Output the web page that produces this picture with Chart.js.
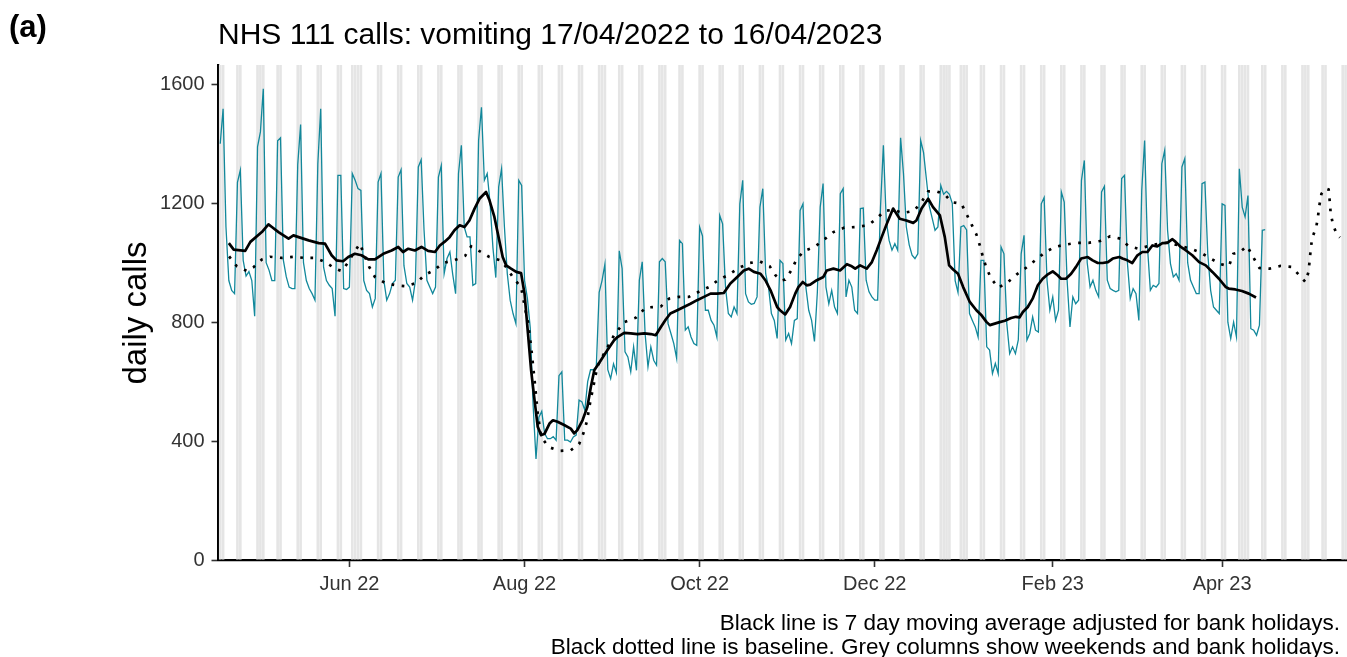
<!DOCTYPE html>
<html>
<head>
<meta charset="utf-8">
<title>NHS 111 calls: vomiting</title>
<script src="https://cdn.jsdelivr.net/npm/chart.js@4.4.1/dist/chart.umd.min.js"></script>
<style>
  html, body { margin: 0; padding: 0; background: #fff; }
  canvas { display: block; }
</style>
</head>
<body>
<canvas id="grafico" width="1347" height="657"></canvas>
<script>
// Day 0 is Sunday 17/04/2022
const startDate = Date.UTC(2022, 3, 17);

// Daily NHS 111 calls for vomiting, one row per week (Sun..Sat)
const dailyCalls = [
  1400, 1518, 1120, 940, 907, 896, 1270,
  1311, 1008, 955, 970, 940, 820, 1390,
  1440, 1585, 1000, 975, 940, 940, 1410,
  1420, 1008, 953, 918, 913, 913, 1330,
  1465, 1000, 940, 913, 896, 874, 1333,
  1518, 985, 940, 924, 913, 820, 1294,
  1294, 913, 910, 918, 1300, 1277, 1249,
  1243, 940, 907, 896, 851, 880, 1271,
  1300, 940, 874, 896, 930, 941, 1288,
  1313, 990, 930, 918, 874, 940, 1322,
  1346, 1109, 941, 918, 896, 918, 1288,
  1327, 963, 1014, 1036, 960, 896, 1300,
  1395, 1120, 1087, 1087, 924, 930, 1411,
  1523, 1277, 1300, 1200, 1050, 950, 1255,
  1316, 1120, 963, 874, 829, 795, 1277,
  1260, 941, 880, 780, 520, 340, 480,
  500, 425, 408, 408, 415, 403, 620,
  633, 403, 403, 397, 414, 420, 538,
  532, 504, 600, 640, 640, 650, 900,
  940, 995, 640, 610, 660, 630, 1040,
  980, 700, 683, 633, 717, 638, 941,
  1003, 762, 650, 717, 672, 655, 1003,
  1014, 1003, 795, 762, 728, 678, 1075,
  1064, 773, 784, 750, 728, 722, 1120,
  1090, 840, 840, 806, 790, 750, 1159,
  1131, 918, 829, 818, 851, 829, 1198,
  1277, 896, 868, 860, 863, 885, 1187,
  1249, 963, 918, 829, 806, 745, 1008,
  997, 740, 762, 728, 806, 812, 1176,
  1198, 918, 840, 806, 735, 900, 1187,
  1266, 918, 862, 907, 851, 829, 1232,
  1249, 885, 941, 918, 840, 829, 1182,
  1184, 941, 902, 885, 874, 874, 1187,
  1395, 1142, 1075, 1042, 1064, 1042, 1420,
  1300, 1120, 1060, 1025, 1014, 1030, 1411,
  1370, 1280, 1190, 1150, 1109, 1120, 1260,
  1230, 1240, 1230, 1200, 940, 900, 1120,
  1125, 1110, 829, 806, 784, 750, 1008,
  1008, 717, 706, 627, 661, 627, 1053,
  1030, 795, 694, 717, 694, 740, 1030,
  1092, 740, 762, 818, 773, 767, 1198,
  1219, 941, 840, 885, 806, 840, 1238,
  1204, 941, 784, 885, 862, 874, 1277,
  1344, 1000, 918, 941, 907, 885, 1238,
  1257, 941, 913, 907, 902, 907, 1283,
  1294, 1000, 879, 913, 896, 806, 1243,
  1411, 1053, 907, 924, 918, 930, 1333,
  1378, 1109, 997, 952, 963, 941, 1322,
  1350, 1000, 941, 918, 896, 896, 1266,
  1271, 1030, 907, 851, 840, 829, 1198,
  1193, 800, 745, 800, 750, 1316, 1187,
  1154, 1226, 778, 773, 756, 790, 1109,
  1111
];

// 7 day moving average (adjusted for bank holidays): day, value
const avgDays = [
  3, 4.7, 8.7, 10.5, 14.5, 16.8, 18, 20.3, 23.8, 25.5, 27.3, 30.8, 34.3, 36.5, 38.8, 40.5,
  42.8, 44.6, 46.9, 49.2, 51.6, 53.9, 56.8, 59.7, 62, 63.7, 65.5, 67.8, 70.1, 72.4, 74.8, 76.5,
  78.1, 79.9, 81.6, 83.4, 85.1, 86.8, 88.6, 90.3, 92.6, 93.8, 95.5, 96.7, 98.4, 99.6, 101.3, 103.1,
  104.8, 106, 107.2, 108.3, 109.5, 110.6, 111.8, 113, 114.7, 115.9, 117.5, 119.8, 122.1, 123.3, 124.4, 126.2,
  127.9, 129.1, 130.3, 132.6, 134.9, 137.2, 138.4, 140.7, 143, 145.3, 147.7, 150, 151.7, 153.5, 155.2, 156.8,
  159.2, 161.5, 163.8, 166.1, 168.5, 170.8, 173.1, 175.4, 177.7, 180.1, 182.4, 184.1, 185.9, 188.2, 189.9, 191.7,
  194, 195, 196.8, 198.5, 200.3, 201.4, 202.9, 204.3, 205.5, 207.8, 210.1, 211.3, 213.6, 215.9, 218.3, 220,
  221.2, 222.9, 225.2, 227, 228.7, 230.4, 232.2, 234.4, 236.7, 239, 241.4, 242.5, 244.3, 246.6, 248.3, 250.7,
  252.4, 253.9, 255.3, 257, 258.8, 261.1, 263.4, 265.2, 266.9, 268.1, 269.8, 271.5, 273.3, 275.5, 277.2, 278.4,
  279.6, 281.3, 283, 284.8, 286.5, 288.3, 290, 291.7, 292.9, 294.6, 296.4, 298.1, 299.9, 302.2, 303.9, 305.7,
  307.4, 309.2, 310.9, 313.2, 314.3, 316, 317.7, 319.5, 321.2, 323, 324.7, 326.4, 328.2, 329.9, 331.7, 332.8,
  334.6, 336.3, 338.6, 341, 343.3, 345.6, 347.9, 350.3, 351.3, 353.6, 355.9, 358.3, 360.8
];
const avgValues = [
  1066, 1044, 1040, 1070, 1103, 1129, 1120, 1103, 1081, 1092, 1086, 1075, 1066, 1064, 1025, 1008,
  1005, 1019, 1030, 1025, 1011, 1011, 1030, 1041, 1053, 1036, 1047, 1041, 1053, 1040, 1036, 1058,
  1070, 1086, 1109, 1126, 1120, 1142, 1182, 1215, 1238, 1210, 1154, 1098, 1019, 991, 980, 969,
  965, 896, 762, 638, 537, 448, 420, 425, 459, 470, 465, 454, 442, 426, 437, 470,
  515, 582, 638, 672, 706, 739, 750, 764, 762, 760, 762, 760, 756, 784, 809, 829,
  840, 851, 862, 874, 885, 896, 896, 898, 930, 952, 974, 980, 969, 963, 941, 907,
  851, 840, 826, 851, 896, 918, 935, 924, 926, 941, 952, 974, 980, 974, 995, 988,
  980, 991, 980, 1002, 1042, 1086, 1131, 1182, 1148, 1142, 1134, 1142, 1182, 1215, 1187, 1159,
  1086, 991, 977, 963, 918, 868, 840, 823, 801, 790, 795, 800, 805, 814, 818, 816,
  834, 851, 879, 924, 946, 961, 971, 958, 946, 946, 963, 986, 1014, 1019, 1008, 999,
  999, 1002, 1014, 1019, 1014, 1008, 999, 1025, 1036, 1036, 1058, 1055, 1066, 1067, 1079, 1070,
  1053, 1042, 1025, 1002, 991, 969, 946, 918, 913, 910, 905, 896, 883
];

// Baseline (dotted): day, value
const baseDays = [
  3.1, 5.8, 9.3, 11.6, 14.5, 17.4, 21.5, 25.6, 29.4, 32.9, 36.6, 40, 42.3, 44.5, 46.7, 48.7,
  50.2, 51.9, 53.9, 57.4, 61.2, 64.6, 68.4, 71.1, 74.4, 77.6, 81.4, 85.3, 87.4, 90.3, 93.8, 97.6,
  99.6, 102.3, 104.8, 106.2, 107.2, 108.3, 109.5, 110.6, 111.8, 114.4, 118.1, 122.1, 125, 126.5, 127.7, 128.9,
  131.4, 134, 137.2, 140.7, 144.8, 148.2, 151.1, 153.5, 156.3, 159.7, 163.2, 166.7, 170.2, 173.7, 177.2, 180.6,
  184.5, 187.9, 191.4, 193.4, 195.5, 196.8, 198.8, 200.6, 203.2, 207, 210.4, 213.6, 217.4, 221.4, 225.6, 228.7,
  231.3, 234.5, 237.7, 241.6, 244.3, 246.6, 249.5, 252.4, 254.7, 258.2, 260, 261.7, 263.4, 264.6, 265.7, 266.9,
  268.6, 271, 274.2, 277.5, 280.7, 283.9, 287.1, 290.6, 294.6, 298.4, 302.5, 306.5, 310, 313.5, 316.4, 319.8,
  325, 330, 335, 338.1, 341.5, 345, 348.5, 351.4, 352.9, 355.2, 357.7, 359.8, 362, 365.6, 369.3, 373.1,
  375.7, 378, 379.1, 379.6, 380.3, 381.8, 382.4, 382.9, 383.6, 385, 386.1, 386.5, 386.8, 387.6, 389, 390
];
const baseValues = [
  1021, 988, 972, 985, 1011, 1020, 1016, 1020, 1016, 1016, 1002, 980, 972, 1000, 1036, 1064,
  1025, 986, 952, 932, 924, 921, 932, 958, 974, 999, 1008, 1023, 1055, 1039, 1019, 1008,
  985, 946, 918, 846, 800, 717, 605, 493, 414, 380, 367, 369, 390, 426, 465, 532,
  652, 700, 756, 800, 815, 849, 851, 853, 879, 885, 885, 902, 918, 943, 960, 982,
  999, 1005, 988, 958, 940, 943, 972, 1008, 1039, 1053, 1078, 1103, 1118, 1120, 1126, 1148,
  1174, 1178, 1167, 1174, 1204, 1240, 1240, 1230, 1204, 1198, 1163, 1129, 1095, 1058, 1019, 982,
  946, 916, 933, 961, 983, 1008, 1033, 1053, 1061, 1067, 1067, 1073, 1089, 1081, 1056, 1047,
  1060, 1068, 1055, 1047, 1034, 1014, 995, 989, 1030, 1036, 1056, 1019, 982, 980, 989, 986,
  960, 935, 969, 1020, 1081, 1120, 1156, 1194, 1232, 1250, 1246, 1206, 1168, 1129, 1094, 1085
];

// Bank holidays shaded with the weekends
const bankHolidays = [
  '2022-04-18', '2022-05-02', '2022-06-02', '2022-06-03', '2022-08-29', '2022-09-19',
  '2022-12-26', '2022-12-27', '2023-01-02', '2023-04-07', '2023-04-10', '2023-05-01'
];

// x axis ticks: first of the month
const tickDays = [45, 106, 167, 228, 290, 349];
const tickLabels = ['Jun 22', 'Aug 22', 'Oct 22', 'Dec 22', 'Feb 23', 'Apr 23'];
const yTicks = [0, 400, 800, 1200, 1600];

const X_MIN = -0.6, X_MAX = 392.5, Y_MAX = 1665;
const FONT = '"Liberation Sans", Arial, Helvetica, sans-serif';

function dayIndex(iso) {
  const p = iso.split('-').map(Number);
  return Math.round((Date.UTC(p[0], p[1] - 1, p[2]) - startDate) / 86400000);
}

// weekends + bank holidays as day numbers
const holidayIdx = bankHolidays.map(dayIndex);
const greyDays = [];
for (let d = 0; d <= Math.floor(X_MAX); d++) {
  const wd = new Date(startDate + d * 86400000).getUTCDay();
  if (wd === 0 || wd === 6 || holidayIdx.includes(d)) greyDays.push(d);
}

// texts around the plot
const textos = {
  id: 'textos',
  afterDraw(chart) {
    const ctx = chart.ctx;
    ctx.save();
    ctx.fillStyle = '#000';
    ctx.textBaseline = 'alphabetic';

    ctx.font = 'bold 31px ' + FONT;
    ctx.textAlign = 'left';
    ctx.fillText('(a)', 9, 37);

    ctx.font = '30px ' + FONT;
    ctx.fillText('NHS 111 calls: vomiting 17/04/2022 to 16/04/2023', 218, 44);

    ctx.font = '22.5px ' + FONT;
    ctx.textAlign = 'right';
    ctx.fillText('Black line is 7 day moving average adjusted for bank holidays.', 1340, 630);
    ctx.fillText('Black dotted line is baseline. Grey columns show weekends and bank holidays.', 1340, 654);

    ctx.translate(146, 313);
    ctx.rotate(-Math.PI / 2);
    ctx.textAlign = 'center';
    ctx.font = '33px ' + FONT;
    ctx.fillText('daily calls', 0, 0);
    ctx.restore();
  }
};

const grafico = document.getElementById('grafico');

new Chart(grafico, {
  data: {
    datasets: [
      {
        type: 'bar',
        data: greyDays.map(d => ({ x: d, y: Y_MAX })),
        backgroundColor: '#e5e5e5',
        borderWidth: 0,
        barPercentage: 0.92,
        categoryPercentage: 1,
        order: 4
      },
      {
        type: 'line',
        data: dailyCalls.map((v, i) => ({ x: i, y: v })),
        borderColor: '#12889b',
        borderWidth: 1.3,
        pointRadius: 0,
        tension: 0,
        order: 3
      },
      {
        type: 'line',
        data: baseDays.map((d, i) => ({ x: d, y: baseValues[i] })),
        borderColor: '#000',
        borderWidth: 2.7,
        borderDash: [2.7, 7.5],
        borderCapStyle: 'butt',
        pointRadius: 0,
        tension: 0,
        order: 2
      },
      {
        type: 'line',
        data: avgDays.map((d, i) => ({ x: d, y: avgValues[i] })),
        borderColor: '#000',
        borderWidth: 2.7,
        borderJoinStyle: 'round',
        pointRadius: 0,
        tension: 0,
        order: 1
      }
    ]
  },
  options: {
    responsive: false,
    animation: false,
    events: [],
    layout: { padding: { top: 65, left: 0, right: 0, bottom: 0 } },
    plugins: {
      legend: { display: false },
      tooltip: { enabled: false }
    },
    scales: {
      x: {
        type: 'linear',
        min: X_MIN,
        max: X_MAX,
        offset: false,
        border: { display: true, color: '#000', width: 2.2 },
        grid: {
          display: true, offset: false, drawOnChartArea: false, drawTicks: true,
          tickLength: 7, color: '#333', tickColor: '#333', tickWidth: 1.6
        },
        ticks: {
          color: '#333',
          padding: 5,
          maxRotation: 0,
          autoSkip: false,
          font: { family: FONT, size: 20 },
          callback: v => tickLabels[tickDays.indexOf(v)] || ''
        },
        afterBuildTicks: s => { s.ticks = tickDays.map(v => ({ value: v })); },
        afterFit: s => { s.height = 97; }
      },
      y: {
        min: 0,
        max: Y_MAX,
        border: { display: true, color: '#000', width: 2.2 },
        grid: {
          display: true, offset: false, drawOnChartArea: false, drawTicks: true,
          tickLength: 7, color: '#333', tickColor: '#333', tickWidth: 1.6
        },
        ticks: {
          color: '#333',
          padding: 7,
          font: { family: FONT, size: 20 },
          callback: v => String(v)
        },
        afterBuildTicks: s => { s.ticks = yTicks.map(v => ({ value: v })); },
        afterFit: s => { s.width = 218.5; }
      }
    }
  },
  plugins: [textos]
});
</script>
</body>
</html>
